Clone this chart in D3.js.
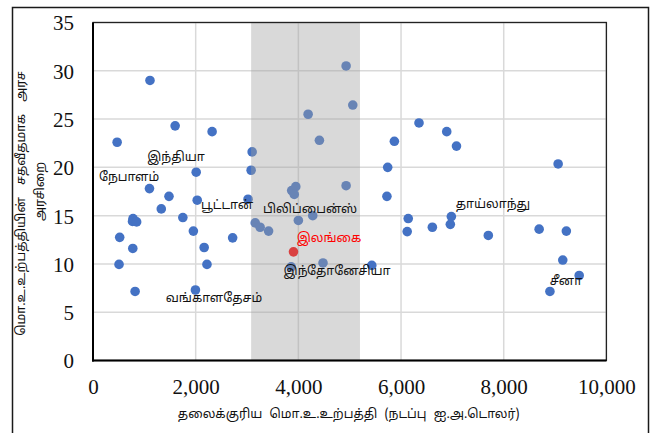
<!DOCTYPE html>
<html>
<head>
<meta charset="utf-8">
<script src="https://cdn.jsdelivr.net/npm/d3@7"></script>
<style>
  html, body { margin: 0; padding: 0; background: #fff; }
  svg { display: block; }
</style>
</head>
<body>
<div id="chart"></div>
<script>
// ---- Data ----
const pointX = [1110, 1600, 2320, 470, 3100, 2010, 3080, 1100, 1480, 2030, 3020, 1330,
  3870, 3950, 3920, 4930, 5725, 4000, 4280, 3160, 3255, 3420, 3860, 4480, 5430,
  6140, 6120, 4930, 5060, 4190, 4410, 6350, 6890, 5870, 7080, 9060, 5740, 6980,
  6610, 6960, 7700, 8690, 9220, 9150, 9470, 8900, 780, 770, 850, 1750, 1955, 520,
  2720, 775, 2165, 507, 2220, 820, 1995];
const pointY = [29.0, 24.3, 23.7, 22.6, 21.6, 19.5, 19.7, 17.8, 17.0, 16.6, 16.7, 15.7,
  17.6, 18.0, 17.2, 18.1, 17.0, 14.5, 15.0, 14.25, 13.8, 13.4, 9.7, 10.1, 9.85,
  14.7, 13.35, 30.5, 26.45, 25.5, 22.8, 24.6, 23.7, 22.7, 22.2, 20.35, 20.0, 14.9,
  13.8, 14.1, 12.95, 13.6, 13.4, 10.4, 8.8, 7.15, 14.7, 14.4, 14.35, 14.8, 13.4, 12.75,
  12.7, 11.6, 11.7, 9.95, 9.95, 7.15, 7.3];
const sriLankaX = [3905];
const sriLankaY = [11.25];

const bandRange = [3080, 5200];

const labelNames = ["இந்தியா", "நேபாளம்", "பூட்டான்", "பிலிப்பைன்ஸ்", "இலங்கை",
  "இந்தோனேசியா", "வங்காளதேசம்", "தாய்லாந்து", "சீனா"];
const labelX = [1618, 703, 2611, 4228, 4598, 4754, 2358, 7790, 9213];
const labelY = [20.97, 18.9, 16.0, 15.6, 12.6, 9.2, 6.4, 16.1, 8.1];
const labelHighlight = [false, false, false, false, true, false, false, false, false];

const xTicks = [0, 2000, 4000, 6000, 8000, 10000];
const yTicks = [0, 5, 10, 15, 20, 25, 30, 35];

const xTitle = "தலைக்குரிய மொ.உ.உற்பத்தி (நடப்பு ஐ.அ.டொலர்)";
const yTitleLine1 = "மொ.உ.உற்பத்தியின் சதவீதமாக அரச";
const yTitleLine2 = "அரசிறை";

// ---- Layout ----
const W = 652, H = 433;
const plot = { left: 93, right: 606.4, top: 22.5, bottom: 360.5 };
const tamilFont = "'Noto Sans Tamil', 'Latha', 'Noto Sans', sans-serif";
const numFont = "'Liberation Serif', 'DejaVu Serif', serif";

const svg = d3.select("#chart").append("svg")
  .attr("width", W).attr("height", H);

// outer border
svg.append("rect")
  .attr("x", 12.5).attr("y", 7.5).attr("width", 636).attr("height", 440)
  .attr("fill", "#fff").attr("stroke", "#1a1a1a").attr("stroke-width", 1.5);

const x = d3.scaleLinear().domain([0, 10000]).range([plot.left, plot.right]);
const y = d3.scaleLinear().domain([0, 35]).range([plot.bottom, plot.top]);

// gridlines
const grid = svg.append("g");
grid.selectAll("line.h").data(yTicks.slice(1)).join("line")
  .attr("x1", plot.left).attr("x2", plot.right)
  .attr("y1", d => y(d)).attr("y2", d => y(d))
  .attr("stroke", "#d9d9d9").attr("stroke-width", 1.5);
grid.selectAll("line.v").data(xTicks.slice(1)).join("line")
  .attr("y1", plot.top).attr("y2", plot.bottom)
  .attr("x1", d => x(d)).attr("x2", d => x(d))
  .attr("stroke", "#d9d9d9").attr("stroke-width", 1.5);

// points
const pts = pointX.map((v, i) => ({ x: v, y: pointY[i] }));
svg.append("g").selectAll("circle").data(pts).join("circle")
  .attr("cx", d => x(d.x)).attr("cy", d => y(d.y)).attr("r", 4.8)
  .attr("fill", "#4472c4");
svg.append("g").selectAll("circle").data(sriLankaX.map((v, i) => ({ x: v, y: sriLankaY[i] }))).join("circle")
  .attr("cx", d => x(d.x)).attr("cy", d => y(d.y)).attr("r", 4.8)
  .attr("fill", "#ff0000");

// band (semi-transparent, over points)
svg.append("rect")
  .attr("x", x(bandRange[0])).attr("y", plot.top)
  .attr("width", x(bandRange[1]) - x(bandRange[0]))
  .attr("height", plot.bottom - plot.top)
  .attr("fill", "rgb(160,160,160)").attr("fill-opacity", 0.4);

// frame
svg.append("rect")
  .attr("x", plot.left).attr("y", plot.top)
  .attr("width", plot.right - plot.left).attr("height", plot.bottom - plot.top)
  .attr("fill", "none").attr("stroke", "#222").attr("stroke-width", 1.3);
svg.append("line").attr("x1", plot.left).attr("x2", plot.left)
  .attr("y1", plot.top).attr("y2", plot.bottom + 1)
  .attr("stroke", "#000").attr("stroke-width", 2);
svg.append("line").attr("x1", plot.left - 1).attr("x2", plot.right)
  .attr("y1", plot.bottom).attr("y2", plot.bottom)
  .attr("stroke", "#000").attr("stroke-width", 2);

// axes (tick labels only)
const xAxis = d3.axisBottom(x).tickValues(xTicks).tickSize(0).tickPadding(0)
  .tickFormat(d3.format(","));
const gx = svg.append("g").attr("transform", `translate(0,${plot.bottom + 19})`).call(xAxis);
gx.attr("font-family", numFont).attr("font-size", 21);
gx.select(".domain").remove();
gx.selectAll("text")
  .style("font-family", numFont).style("font-size", "21px")
  .attr("fill", "#111").attr("dy", "0.7em");

const yAxis = d3.axisLeft(y).tickValues(yTicks).tickSize(0).tickPadding(0);
const gy = svg.append("g").attr("transform", `translate(${plot.left - 19},0)`).call(yAxis);
gy.attr("font-family", numFont).attr("font-size", 21);
gy.select(".domain").remove();
gy.selectAll("text")
  .style("font-family", numFont).style("font-size", "21px")
  .attr("fill", "#111").attr("dy", "0.35em");

// labels
const labels = labelNames.map((n, i) => ({ n, x: labelX[i], y: labelY[i], hl: labelHighlight[i] }));
const lg = svg.append("g");
lg.selectAll("text").data(labels).join("text")
  .attr("x", d => x(d.x)).attr("y", d => y(d.y))
  .attr("text-anchor", "middle").attr("dominant-baseline", "central")
  .attr("font-family", tamilFont).attr("font-size", 12.5)
  .attr("fill", d => d.hl ? "#ff0000" : "#111")
  .text(d => d.n);

// axis titles
svg.append("text")
  .attr("x", (plot.left + plot.right) / 2 - 1).attr("y", 415)
  .attr("text-anchor", "middle").attr("dominant-baseline", "central")
  .attr("font-family", tamilFont).attr("font-size", 12.5).attr("fill", "#111")
  .attr("word-spacing", "4px")
  .text(xTitle);

const ytg = svg.append("g");
ytg.append("text")
  .attr("transform", `translate(22,${(plot.top + plot.bottom) / 2 + 12}) rotate(-90)`)
  .attr("text-anchor", "middle").attr("dominant-baseline", "central")
  .attr("font-family", tamilFont).attr("font-size", 12.5).attr("fill", "#111")
  .attr("word-spacing", "9px")
  .text(yTitleLine1);
ytg.append("text")
  .attr("transform", `translate(41,${(plot.top + plot.bottom) / 2}) rotate(-90)`)
  .attr("text-anchor", "middle").attr("dominant-baseline", "central")
  .attr("font-family", tamilFont).attr("font-size", 12.5).attr("fill", "#111")
  .text(yTitleLine2);
</script>
</body>
</html>
